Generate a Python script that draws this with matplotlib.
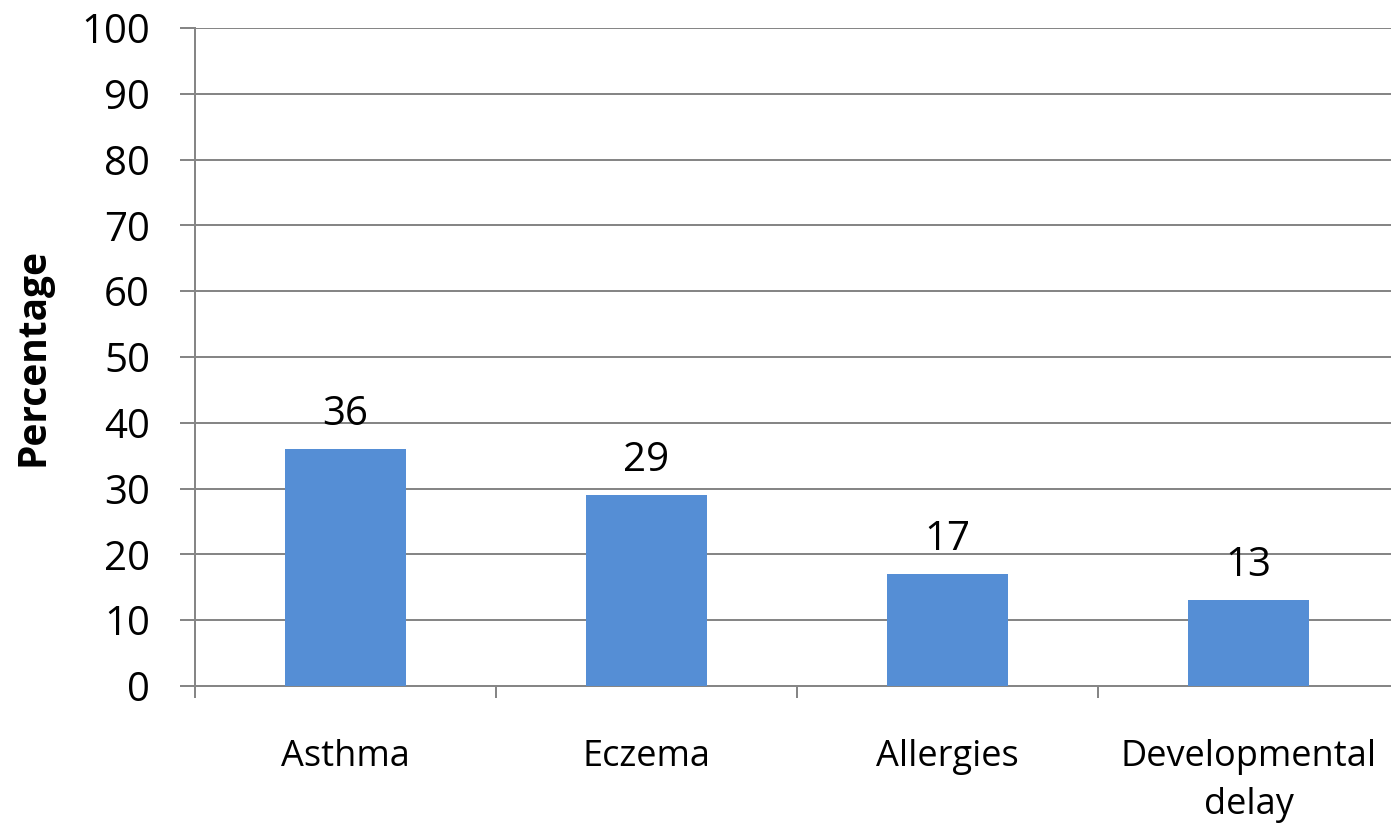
import matplotlib
matplotlib.use("Agg")
import matplotlib.pyplot as plt

categories = ["Asthma", "Eczema", "Allergies", "Developmental\ndelay"]
values = [36, 29, 17, 13]
yticks = [0, 10, 20, 30, 40, 50, 60, 70, 80, 90, 100]

plt.rcParams['font.family'] = ['Open Sans', 'DejaVu Sans']
W, H = 1391, 825
fig = plt.figure(figsize=(W / 100, H / 100), dpi=100)
ax = fig.add_axes([195 / W, 1 - 686 / H, 1204 / W, 658 / H])

px = 0.72  # points per pixel at 100 dpi
grid_c = "#868686"
x = list(range(len(categories)))
bars = ax.bar(x, values, width=0.4, color="#558ED5", zorder=3)
for xi, v in zip(x, values):
    ax.text(xi, v + 3.65, str(v), ha="center", va="baseline", fontsize=29, color="black")

ax.set_xlim(-0.5, len(categories) - 0.5)
ax.set_ylim(0, 100)
ax.set_yticks(yticks)
ax.yaxis.grid(True, color=grid_c, linewidth=2 * px, zorder=0)
ax.set_axisbelow(True)
ax.tick_params(axis="y", labelsize=29, length=15 * px, width=2 * px, color=grid_c, pad=30 * px)
ax.set_xticks(x)
ax.set_xticklabels(categories, fontsize=26, linespacing=1.45)
ax.tick_params(axis="x", length=0, pad=53 * px)
ax.set_xticks([i - 0.5 for i in range(len(categories) + 1)], minor=True)
ax.tick_params(axis="x", which="minor", length=12 * px, width=2 * px, color=grid_c)
for s in ["top", "right"]:
    ax.spines[s].set_visible(False)
ax.spines["left"].set_color(grid_c)
ax.spines["left"].set_linewidth(2 * px)
ax.spines["bottom"].set_color(grid_c)
ax.spines["bottom"].set_linewidth(2 * px)
fig.text(33 / W, 1 - 357 / H, "Percentage", rotation=90, ha="center", va="center",
         fontsize=28, fontweight="bold")

fig.savefig("out.png", dpi=100)
